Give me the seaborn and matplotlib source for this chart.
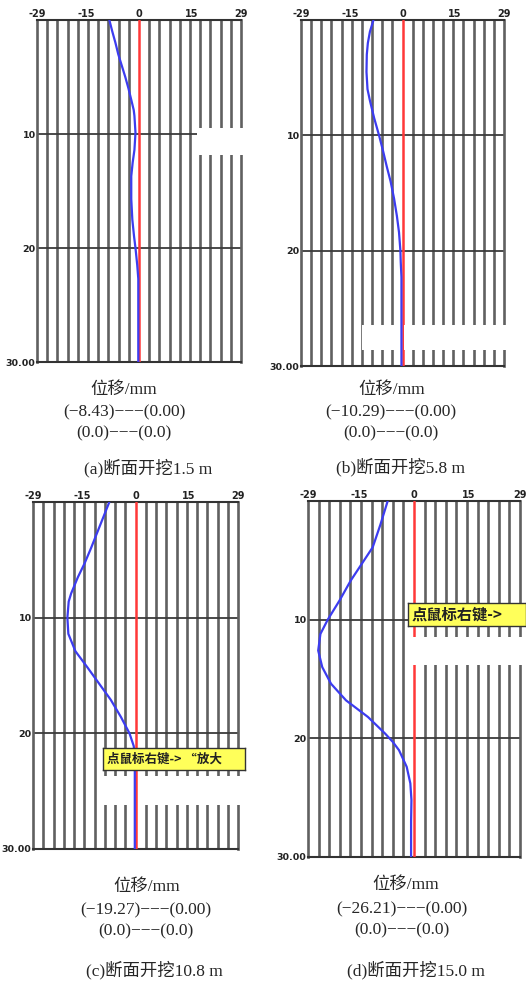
import numpy as np
import matplotlib
matplotlib.use("Agg")
import matplotlib.pyplot as plt
from matplotlib.patches import Rectangle
import seaborn as sns

sns.set_style("white")
plt.rcParams['font.family'] = ['Liberation Serif', 'Noto Sans CJK SC', 'DejaVu Sans']
plt.rcParams['axes.unicode_minus'] = True

# ---------------- data ----------------
depth_a = [0, 1, 2, 3, 4, 5, 6, 7, 7.9, 8.4, 9.9, 11.4, 12.5, 13.7, 15.7, 17.5, 19, 20, 21.5, 22.7, 24, 26, 28, 30]
disp_a = [-8.43, -7.6, -6.7, -5.9, -4.9, -3.9, -3.0, -2.2, -1.5, -1.3, -1.0, -1.3, -1.8, -2.2, -2.2, -1.9, -1.4, -1.0, -0.5, -0.2, -0.2, -0.2, -0.2, -0.2]

depth_b = [0, 1, 2, 3, 4.5, 6, 7, 8.5, 10, 11.3, 12.7, 14, 15.5, 17, 18.4, 20, 21, 22.3, 24, 26, 28, 30]
disp_b = [-8.3, -9.3, -9.9, -10.2, -10.29, -10.0, -9.3, -8.1, -6.7, -5.6, -4.5, -3.4, -2.4, -1.6, -1.0, -0.6, -0.5, -0.3, -0.3, -0.3, -0.3, -0.3]

depth_c = [0, 1, 2, 3, 4, 5.3, 6.5, 7.9, 8.6, 10, 11.4, 12.9, 14.3, 15.7, 17.1, 18.6, 20, 21.1, 22, 24, 26, 28, 30]
disp_c = [-7.4, -8.7, -10.0, -11.3, -12.6, -14.4, -16.3, -18.2, -18.9, -19.27, -19.0, -17.0, -13.6, -10.3, -7.0, -4.1, -1.7, -0.5, -0.2, -0.2, -0.2, -0.2, -0.2]

depth_d = [0, 2, 3.9, 5.3, 6.7, 8.4, 10, 11.2, 12.6, 14, 15.4, 16.8, 18.2, 19.6, 20.3, 21, 22.4, 23.8, 25.2, 27, 30]
disp_d = [-7.2, -9.2, -11.3, -14.3, -17.3, -20.4, -23.6, -25.6, -26.21, -25.1, -22.7, -18.6, -12.6, -7.9, -5.8, -4.1, -2.0, -1.0, -0.7, -0.8, -0.8]

ref_depth = [0, 30]
ref_disp = [0, 0]

x_tick_pos = [-29, -15, 0, 15, 29]
x_tick_labels = ["-29", "-15", "0", "15", "29"]
y_tick_pos = [10, 20, 30]
y_tick_labels = ["10", "20", "30.00"]

axis_title = "位移/mm"
range_lines = ["(−8.43)−−−(0.00)", "(−10.29)−−−(0.00)", "(−19.27)−−−(0.00)", "(−26.21)−−−(0.00)"]
zero_line = "(0.0)−−−(0.0)"
captions = ["(a)断面开挖1.5 m", "(b)断面开挖5.8 m", "(c)断面开挖10.8 m", "(d)断面开挖15.0 m"]

# ---------------- layout ----------------
W, H = 526, 984
fig = plt.figure(figsize=(W / 100, H / 100), dpi=100)
fig.patch.set_facecolor("white")


def fx(x):
    return x / W


def fy(y):
    return 1 - y / H


def px_axes(left, right, top, bottom, **kw):
    return fig.add_axes([fx(left), fy(bottom), fx(right - left), (bottom - top) / H], **kw)


panels = [
    dict(box=(37, 241, 20, 362), depth=depth_a, disp=disp_a,
         txt=[(124, 390), (124, 412), (124, 433), (148, 468)]),
    dict(box=(301, 504, 20, 366), depth=depth_b, disp=disp_b,
         txt=[(392, 390), (391, 412), (391, 433), (400, 467)]),
    dict(box=(33, 238, 502, 849), depth=depth_c, disp=disp_c,
         txt=[(147, 887), (146, 910), (146, 931), (154, 970)]),
    dict(box=(308, 520, 501, 857), depth=depth_d, disp=disp_d,
         txt=[(406, 885), (402, 909), (402, 930), (416, 970)]),
]

grid_x = np.linspace(-29, 29, 21)

for i, p in enumerate(panels):
    l, r, t, b = p["box"]
    ax = px_axes(l, r, t, b)
    ax.set_xlim(-29, 29)
    ax.set_ylim(30, 0)
    ax.set_xticks(x_tick_pos)
    ax.set_xticklabels(x_tick_labels, fontsize=7, fontweight="bold", family="DejaVu Sans", color="#222222")
    ax.set_xticks(grid_x, minor=True)
    ax.set_yticks(y_tick_pos)
    ax.set_yticklabels(y_tick_labels, fontsize=6.8, fontweight="bold", family="DejaVu Sans", color="#222222")
    ax.xaxis.tick_top()
    ax.tick_params(axis="both", which="both", length=0, pad=1)
    ax.grid(False)
    ax.grid(True, which="minor", axis="x", color="#606060", linewidth=1.9)
    ax.grid(True, which="major", axis="y", color="#3a3a3a", linewidth=1.3)
    for side in ["left", "right"]:
        ax.spines[side].set_color("#606060")
        ax.spines[side].set_linewidth(1.9)
    for side in ["top", "bottom"]:
        ax.spines[side].set_color("#333333")
        ax.spines[side].set_linewidth(1.5)
    ax.set_axisbelow(True)

    sns.lineplot(x=ref_disp, y=ref_depth, sort=False, estimator=None, ax=ax,
                 color="#ff3838", linewidth=1.8, zorder=3)
    sns.lineplot(x=p["disp"], y=p["depth"], sort=False, estimator=None, ax=ax,
                 color="#3c3cf0", linewidth=1.6, zorder=4)
    ax.set_xlabel("")
    ax.set_ylabel("")

    (x1, y1), (x2, y2), (x3, y3), (x4, y4) = p["txt"]
    fig.text(fx(x1), fy(y1), axis_title, ha="center", va="center", fontsize=12.5)
    fig.text(fx(x2), fy(y2), range_lines[i], ha="center", va="center", fontsize=12.5)
    fig.text(fx(x3), fy(y3), zero_line, ha="center", va="center", fontsize=12.5)
    fig.text(fx(x4), fy(y4), captions[i], ha="center", va="center", fontsize=12.5)

# white cover rectangles (gaps left where the zero line shows through)
for (x0, x1, y0, y1) in [(197, 247, 128, 155),
                         (362, 398, 325, 350), (404, 526, 325, 350),
                         (103, 133, 776, 805), (138, 245, 776, 805),
                         (410, 526, 637, 665)]:
    fig.add_artist(Rectangle((fx(x0), fy(y1)), fx(x1 - x0), (y1 - y0) / H,
                             transform=fig.transFigure, facecolor="white",
                             edgecolor="none", zorder=5))

# yellow tooltips
tips = [((103, 245, 748, 770), "点鼠标右键-> “放大", 9),
        ((408, 526, 603, 626), "点鼠标右键->", 11)]
for (x0, x1, y0, y1), txt, fs in tips:
    tax = px_axes(x0, x1, y0, y1, zorder=10)
    tax.set_facecolor("#ffff5a")
    tax.set_xticks([])
    tax.set_yticks([])
    for s in tax.spines.values():
        s.set_color("#333333")
        s.set_linewidth(1.0)
    tax.text(0.03, 0.48, txt, transform=tax.transAxes, ha="left", va="center",
             fontsize=fs, fontweight="bold", color="#222222",
             family=["Noto Sans CJK SC", "DejaVu Sans"], clip_on=True)

fig.savefig("out.png", dpi=100, facecolor="white")
